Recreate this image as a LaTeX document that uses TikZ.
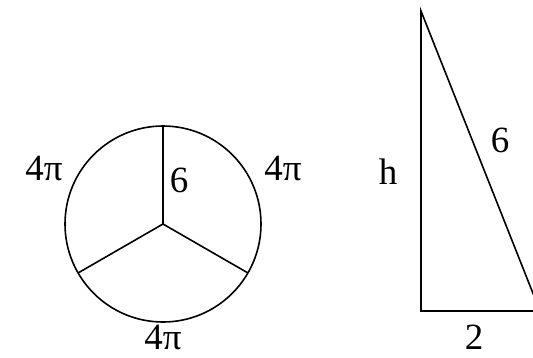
\documentclass[tikz,border=0pt]{standalone}
\usepackage{fontspec}
\setmainfont{Liberation Serif}
\usetikzlibrary{positioning}

\begin{document}
\begin{tikzpicture}[
    x=1pt, y=-1pt,
    line width=1.6pt,
    lbl/.style={font=\fontsize{37}{40}\selectfont, inner sep=0pt}
]
\useasboundingbox (0,0) rectangle (533,357);
\clip (0,0) rectangle (533,357);

% circle cut in three
\coordinate (o) at (163,224);
\coordinate (top) at (163,126);
\coordinate (bl) at (78,273);
\coordinate (br) at (248,273);
\draw (o) circle (98);
\draw (o) -- (top);
\draw (o) -- (bl);
\draw (o) -- (br);

\node[lbl] (arcL) at (44,168) {4π};
\node[lbl] (arcR) at (283,168) {4π};
\node[lbl] (arcB) at (163,337) {4π};
\node[lbl] (rad) at (179,180) {6};

% right triangle
\coordinate (apex) at (421,11);
\coordinate (foot) at (421,311);
\coordinate (tip) at (540,311);
\draw (apex) -- (foot) -- (tip) -- cycle;

\node[lbl] (hgt) at (388,172) {h};
\node[lbl] (slant) at (500,140) {6};
\node[lbl] (base) at (474,337) {2};
\end{tikzpicture}
\end{document}
